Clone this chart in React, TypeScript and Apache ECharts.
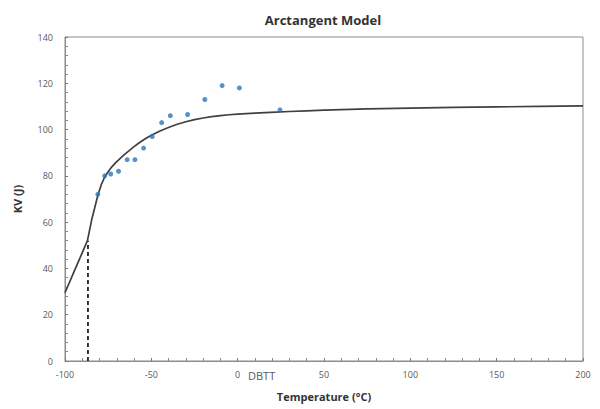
import React, { useEffect, useRef } from "react";
import * as echarts from "echarts";

const measuredPoints: [number, number][] = [
  [-81, 72], [-77, 80], [-73.5, 80.8], [-69, 82], [-64, 87], [-59.5, 87],
  [-54.5, 92], [-49.5, 97], [-44, 103], [-39, 106], [-29, 106.5],
  [-19, 113], [-9, 119], [1, 118], [24.5, 108.5],
];

const modelCurve: [number, number][] = [
  [-100, 29.5], [-95, 38.2], [-90, 46.8], [-87, 52], [-84.4, 61.5], [-81, 71.5],
  [-79, 76.2], [-77, 79.5], [-75, 81.8], [-73, 83.8], [-70.5, 85.8], [-68, 87.6],
  [-65.5, 89.3], [-63, 90.8], [-60, 92.6], [-57, 94.3], [-53.5, 96], [-50, 97.5],
  [-45, 99.4], [-39, 101.2], [-35, 102.3], [-30, 103.4], [-25, 104.3], [-20, 105],
  [-15, 105.6], [-10, 106], [-5, 106.4], [0, 106.7], [10, 107.1], [19, 107.4],
  [30, 107.8], [40, 108.1], [50, 108.4], [75, 108.9], [100, 109.3], [125, 109.6],
  [150, 109.8], [175, 110], [200, 110.2],
];

const dbtt: [number, number][] = [[-86.7, 0], [-86.7, 52]];

export default function App() {
  const ref = useRef<HTMLDivElement>(null);
  useEffect(() => {
    const chart = echarts.init(ref.current!, null, { renderer: "svg" });
    const labelColor = "#595959";
    chart.setOption({
      animation: false,
      backgroundColor: "#ffffff",
      title: {
        text: "Arctangent Model",
        left: 318,
        top: 8,
        textAlign: "center",
        textStyle: { fontFamily: "Open Sans", fontSize: 13, fontWeight: "bold", color: "#333333" },
      },
      grid: {
        left: 65, right: 17, top: 37, bottom: 48,
        show: true, borderColor: "#8c8c8c", borderWidth: 1,
      },
      xAxis: {
        type: "value",
        min: -100, max: 200, interval: 50,
        name: "Temperature (°C)",
        nameLocation: "middle",
        nameGap: 30,
        nameTextStyle: { fontFamily: "Open Sans", fontSize: 11, fontWeight: "bold", color: "#333333" },
        axisLine: { show: true, onZero: false, lineStyle: { color: "#8c8c8c" } },
        axisTick: { show: true, inside: true, length: 3, lineStyle: { color: "#777777" } },
        minorTick: { show: true, splitNumber: 5, length: 3, lineStyle: { color: "#888888" } },
        splitLine: { show: false },
        axisLabel: { color: labelColor, fontSize: 9, fontFamily: "Open Sans", margin: 9 },
      },
      yAxis: {
        type: "value",
        min: 0, max: 140, interval: 20,
        name: "KV (J)",
        nameLocation: "middle",
        nameGap: 42,
        nameTextStyle: { fontFamily: "Open Sans", fontSize: 11, fontWeight: "bold", color: "#333333" },
        axisLine: { show: true, onZero: false, lineStyle: { color: "#8c8c8c" } },
        axisTick: { show: true, inside: true, length: 3, lineStyle: { color: "#777777" } },
        minorTick: { show: true, splitNumber: 5, length: 3, lineStyle: { color: "#888888" } },
        splitLine: { show: false },
        axisLabel: { color: labelColor, fontSize: 9, fontFamily: "Open Sans", margin: 12 },
      },
      graphic: [
        {
          type: "text",
          left: 248,
          top: 370,
          style: { text: "DBTT", fill: labelColor, fontSize: 11, fontFamily: "Open Sans" },
        },
      ],
      series: [
        {
          type: "line",
          data: modelCurve,
          smooth: false,
          showSymbol: false,
          lineStyle: { color: "#404040", width: 1.7, join: "round" },
          z: 2,
        },
        {
          type: "scatter",
          data: measuredPoints,
          symbolSize: 5,
          itemStyle: { color: "#2e75b6" },
          z: 3,
        },
        {
          type: "line",
          data: dbtt,
          showSymbol: false,
          lineStyle: { color: "#222222", width: 1.8, type: [4, 3] },
          z: 1,
        },
      ],
    });
    return () => chart.dispose();
  }, []);
  return <div ref={ref} style={{ width: 600, height: 409, position: "absolute", left: 0, top: 0 }} />;
}
